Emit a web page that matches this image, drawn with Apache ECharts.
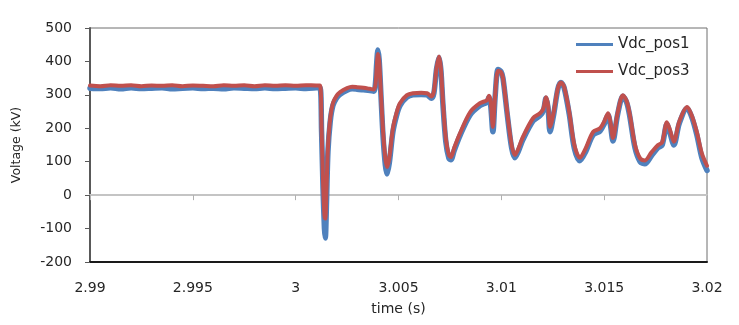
<!DOCTYPE html>
<html>
<head>
<meta charset="utf-8">
<title>Vdc</title>
<script src="https://cdn.jsdelivr.net/npm/echarts@6/dist/echarts.min.js"></script>
<style>
  html, body { margin: 0; padding: 0; background: #fff; }
  #chart { width: 739px; height: 325px; }
</style>
</head>
<body>
<div id="chart"></div>
<script>
// Sample times (s), shared by both DC voltage traces
const timeS = [
  2.9900, 2.9905, 2.9910, 2.9915, 2.9920, 2.9925, 2.9930, 2.9935, 2.9940, 2.9945,
  2.9950, 2.9955, 2.9960, 2.9965, 2.9970, 2.9975, 2.9980, 2.9985, 2.9990, 2.9995,
  3.0000, 3.0005, 3.0010, 3.00118,
  3.00126, 3.00133, 3.00140, 3.00144, 3.00150, 3.00157, 3.00168, 3.00181, 3.00198, 3.00216,
  3.00250, 3.00275, 3.00298, 3.00330, 3.00361, 3.00380, 3.00388, 3.00394, 3.00400, 3.00406,
  3.00415, 3.00425, 3.00436, 3.00444, 3.00455, 3.00473, 3.00490, 3.00507, 3.00541, 3.00570,
  3.00610, 3.00639, 3.00660, 3.00672, 3.00685, 3.00697, 3.00706, 3.00716, 3.00730, 3.00745,
  3.00755, 3.00770, 3.00799, 3.00848, 3.00896, 3.00930, 3.00940, 3.00948, 3.00959, 3.00970,
  3.00984, 3.00998, 3.01008, 3.01030, 3.01050, 3.01066, 3.01080, 3.01105, 3.01154, 3.01188,
  3.01205, 3.01217, 3.01227, 3.01237, 3.01255, 3.01275, 3.01290, 3.01305, 3.01330, 3.01355,
  3.01382, 3.01410, 3.01446, 3.01480, 3.01500, 3.01519, 3.01530, 3.01543, 3.01565, 3.01591,
  3.01610, 3.01625, 3.01650, 3.01675, 3.01698, 3.01730, 3.01762, 3.01782, 3.01805, 3.01820,
  3.01839, 3.01865, 3.01903, 3.01925, 3.01950, 3.01975, 3.02000
];

// Vdc_pos1 (kV)
const vdcPos1 = [
  320, 319, 321, 318, 321, 319, 320, 321, 318, 320,
  321, 319, 320, 318, 321, 320, 319, 321, 319, 320,
  321, 319, 321, 322,
  190, 20, -100, -128, -20, 130, 220, 268, 290, 302,
  314, 318, 317, 315, 313, 311, 335, 395, 434, 405,
  295, 175, 90, 63, 95, 190, 237, 268, 293, 300,
  301, 300, 290, 305, 378, 412, 375, 272, 160, 110,
  106, 132, 178, 240, 268, 278, 293, 270, 190, 295,
  376, 370, 350, 235, 142, 112, 127, 166, 222, 238,
  254, 290, 262, 190, 243, 318, 337, 322, 243, 140,
  103, 130, 180, 192, 213, 240, 212, 162, 240, 296,
  276, 234, 141, 100, 94, 118, 142, 150, 212, 186,
  150, 214, 260, 235, 182, 112, 74
];

// Vdc_pos3 (kV)
const vdcPos3 = [
  328, 326, 329, 327, 329, 326, 328, 327, 329, 326,
  328, 327, 326, 329, 327, 329, 326, 329, 327, 329,
  327, 329, 328, 328,
  200, 40, -60, -70, 20, 144, 230, 275, 296, 308,
  320, 324, 323, 321, 318, 316, 330, 380, 422, 400,
  300, 190, 110, 84, 110, 200, 245, 275, 299, 305,
  306, 305, 295, 310, 380, 415, 380, 280, 170, 120,
  114, 140, 185, 248, 275, 284, 297, 280, 204, 300,
  372, 368, 350, 240, 150, 120, 135, 174, 230, 245,
  260, 293, 270, 204, 250, 320, 337, 325, 250, 150,
  112, 140, 189, 200, 220, 245, 220, 171, 245, 299,
  280, 240, 150, 110, 104, 128, 150, 158, 218, 195,
  160, 220, 264, 240, 190, 125, 88
];

const seriesNames = ['Vdc_pos1', 'Vdc_pos3'];
const xTicks = { min: 2.99, max: 3.02, step: 0.005 };
const yTicks = { min: -200, max: 500, step: 100 };

const pairs = (vals) => timeS.map((t, i) => [t, vals[i]]);

const FONT = 'DejaVu Sans';
const TEXT = '#262626';

const chart = echarts.init(document.getElementById('chart'), null, { renderer: 'canvas' });

chart.setOption({
  animation: false,
  backgroundColor: '#ffffff',
  textStyle: { fontFamily: FONT, color: TEXT },
  grid: {
    left: 90, right: 32, top: 28, bottom: 63,
    show: true, borderColor: '#6f6f6f', borderWidth: 1, backgroundColor: 'transparent'
  },
  legend: {
    orient: 'vertical',
    left: 571, top: 32,
    itemWidth: 37, itemHeight: 3, itemGap: 12,
    icon: 'rect',
    textStyle: { fontFamily: FONT, fontSize: 15, color: TEXT },
    data: seriesNames
  },
  xAxis: [
    {
      type: 'value',
      min: xTicks.min, max: xTicks.max, interval: xTicks.step,
      position: 'bottom',
      name: 'time (s)', nameLocation: 'middle', nameGap: 40,
      nameTextStyle: { fontFamily: FONT, fontSize: 14, color: TEXT },
      axisLine: { onZero: false, lineStyle: { color: '#1a1a1a', width: 2 } },
      axisTick: { show: false },
      splitLine: { show: false },
      axisLabel: {
        margin: 19, fontFamily: FONT, fontSize: 14, color: TEXT,
        formatter: (v) => String(+v.toFixed(3))
      }
    },
    {
      // horizontal axis line drawn through 0 kV
      type: 'value',
      min: xTicks.min, max: xTicks.max, interval: xTicks.step,
      position: 'top',
      axisLine: { onZero: true, lineStyle: { color: '#c4c4c4', width: 2 } },
      axisTick: { show: true, inside: true, length: 5, lineStyle: { color: '#b0b0b0', width: 1 } },
      axisLabel: { show: false },
      splitLine: { show: false }
    }
  ],
  yAxis: {
    type: 'value',
    min: yTicks.min, max: yTicks.max, interval: yTicks.step,
    name: 'Voltage (kV)', nameLocation: 'middle', nameGap: 67, nameRotate: 90,
    nameTextStyle: { fontFamily: FONT, fontSize: 12.5, color: TEXT },
    axisLine: { show: true, lineStyle: { color: '#595959', width: 2 } },
    axisTick: { show: true, length: 5, lineStyle: { color: '#595959', width: 1 } },
    splitLine: { show: false },
    axisLabel: { margin: 18, fontFamily: FONT, fontSize: 14, color: TEXT }
  },
  series: [
    {
      name: seriesNames[0], type: 'line', xAxisIndex: 0,
      data: pairs(vdcPos1),
      showSymbol: false, symbol: 'none', smooth: 0.3,
      color: '#4f81bd',
      lineStyle: { color: '#4f81bd', width: 5.5, cap: 'round', join: 'round' },
      z: 2
    },
    {
      name: seriesNames[1], type: 'line', xAxisIndex: 0,
      data: pairs(vdcPos3),
      showSymbol: false, symbol: 'none', smooth: 0.3,
      color: '#c0504d',
      lineStyle: { color: '#c0504d', width: 4, cap: 'round', join: 'round' },
      z: 3
    }
  ]
});
</script>
</body>
</html>
